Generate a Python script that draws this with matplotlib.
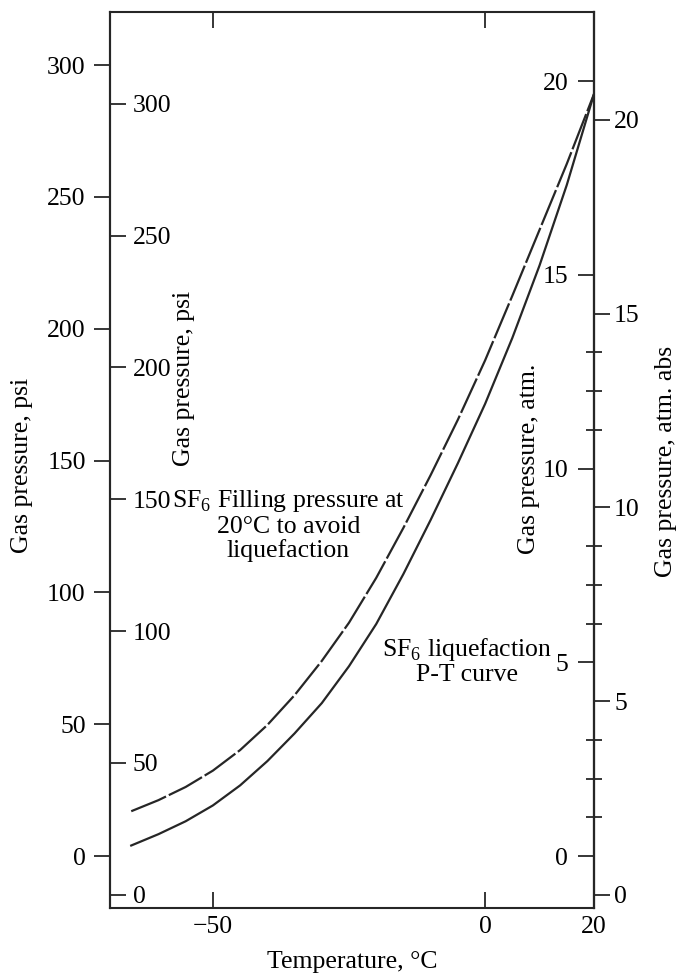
import numpy as np
import matplotlib.pyplot as plt
from matplotlib.ticker import FixedLocator

plt.rcParams['font.family'] = ['Liberation Serif', 'DejaVu Serif']
plt.rcParams['mathtext.fontset'] = 'custom'
plt.rcParams['mathtext.rm'] = 'Liberation Serif'
plt.rcParams['axes.unicode_minus'] = True

PSI_PER_ATM = 14.696

# SF6 liquefaction P-T curve (gauge psi)
temp_liq = [-65, -60, -55, -50, -45, -40, -35, -30, -25, -20, -15, -10, -5, 0, 5, 10, 15, 20]
psi_liq = [4, 8.3, 13.2, 19.2, 26.8, 36, 46.5, 58, 72, 88, 107, 127.5, 149, 171.5, 196.5, 224, 254.5, 289]

# filling pressure at 20 C to avoid liquefaction (gauge psi)
temp_fill = [-65, -60, -55, -50, -45, -40, -35, -30, -25, -20, -15, -10, -5, 0, 5, 10, 15, 20]
psi_fill = [17, 21.2, 26.2, 32.4, 40.2, 49.7, 61, 74, 88.5, 105.5, 124.5, 144.5, 165.5, 188, 212.5, 237.5, 262.5, 289]

psi_ticks = list(range(0, 301, 50))
atm_ticks = list(range(0, 21, 5))
abs_minor = [2, 3, 4, 7, 8, 9, 12, 13, 14]
temp_ticks = [-50, 0, 20]

ink = '#262626'
fs = 18.5
tl = 11.5
tw = 1.3

fig = plt.figure(figsize=(6.79, 9.74), dpi=100)
ax = fig.add_axes([110 / 679, 66 / 974, 484 / 679, 896 / 974])

ax.plot(temp_liq, psi_liq, color=ink, lw=1.6)
ax.plot(temp_fill, psi_fill, color=ink, lw=1.6, dashes=(17, 1.4))

ax.set_xlim(-68.9, 20)
ax.set_ylim(-19.7, 320.1)
ax.set_xticks(temp_ticks)
ax.tick_params(axis='x', direction='in', top=True, length=tl, width=tw, pad=6,
               labelsize=fs, color=ink)
ax.set_yticks(psi_ticks)
ax.tick_params(axis='y', direction='out', length=tl, width=tw, pad=6,
               labelsize=fs, color=ink)
for s in ax.spines.values():
    s.set_linewidth(1.5)
    s.set_color(ink)

# psi absolute, inside the left spine
sec_psi = ax.secondary_yaxis(0.0, functions=(lambda p: p + PSI_PER_ATM,
                                             lambda p: p - PSI_PER_ATM))
sec_psi.set_alignment('right')
sec_psi.set_yticks(psi_ticks)
sec_psi.tick_params(direction='out', length=tl, width=tw, pad=5, labelsize=fs, color=ink)
sec_psi.spines['right'].set_linewidth(1.5)

# atm gauge, inside the right spine
sec_atm = ax.secondary_yaxis(1.0, functions=(lambda p: p / PSI_PER_ATM,
                                             lambda a: a * PSI_PER_ATM))
sec_atm.set_alignment('left')
sec_atm.set_yticks(atm_ticks)
sec_atm.tick_params(direction='out', length=tl, width=tw, pad=7, labelsize=fs, color=ink)
sec_atm.spines['left'].set_linewidth(1.5)

# atm absolute, outside the right spine
sec_abs = ax.secondary_yaxis('right', functions=(lambda p: p / PSI_PER_ATM + 1,
                                                 lambda a: (a - 1) * PSI_PER_ATM))
sec_abs.set_yticks(atm_ticks)
sec_abs.yaxis.set_minor_locator(FixedLocator(abs_minor))
sec_abs.tick_params(which='major', direction='out', length=tl, width=tw, pad=3,
                    labelsize=fs, color=ink)
sec_abs.tick_params(which='minor', direction='inout', length=12, width=tw, color=ink)
sec_abs.spines['right'].set_linewidth(1.5)

# axis titles
fig.text(22 / 679, 1 - 465 / 974, 'Gas pressure, psi', rotation=90,
         ha='center', va='center', fontsize=fs)
fig.text(184 / 679, 1 - 378 / 974, 'Gas pressure, psi', rotation=90,
         ha='center', va='center', fontsize=fs)
fig.text(529 / 679, 1 - 459 / 974, 'Gas pressure, atm.', rotation=90,
         ha='center', va='center', fontsize=fs)
fig.text(666 / 679, 1 - 461 / 974, 'Gas pressure, atm. abs', rotation=90,
         ha='center', va='center', fontsize=fs)
fig.text(352 / 679, 1 - 962 / 974, 'Temperature, °C', ha='center', va='center',
         fontsize=fs)

ax.text(-36.1, 125.5, 'SF$_\\mathrm{6}$ Filling pressure at\n20°C to avoid\nliquefaction',
        ha='center', va='center', fontsize=fs, linespacing=1.1)
ax.text(-3.3, 74, 'SF$_\\mathrm{6}$ liquefaction\nP-T curve',
        ha='center', va='center', fontsize=fs, linespacing=1.1)

fig.savefig('out.png', dpi=100)
